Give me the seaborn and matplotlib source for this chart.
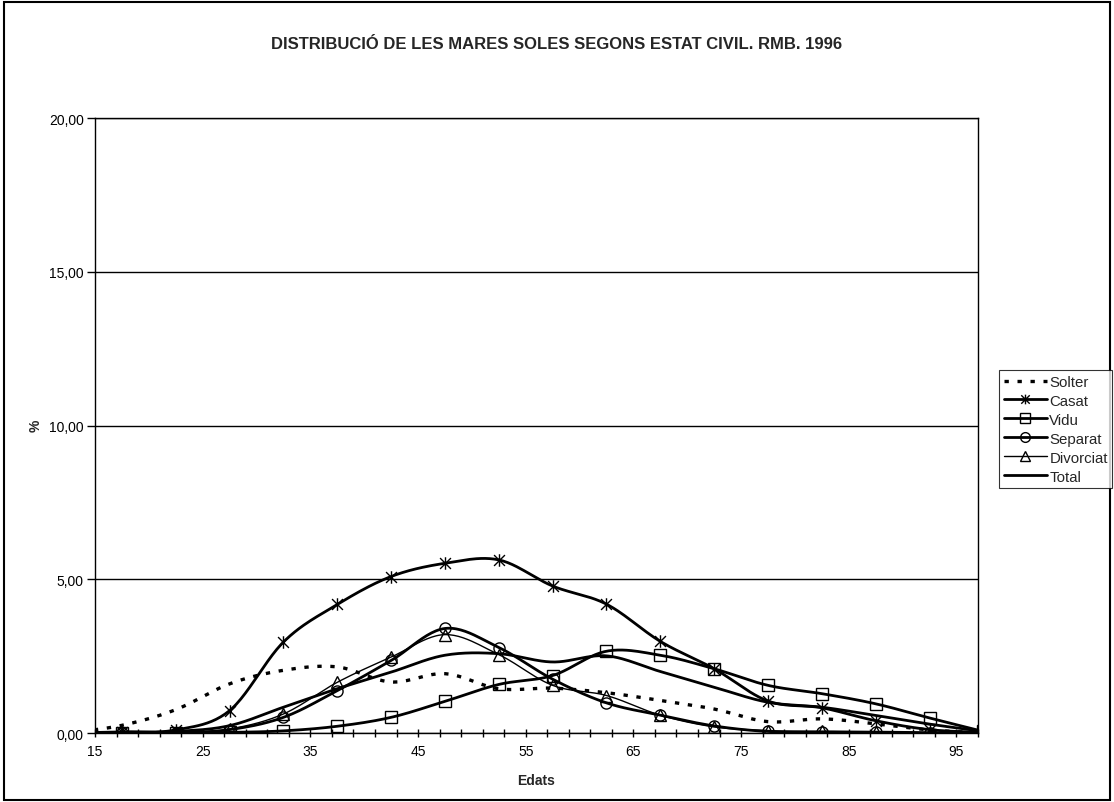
import numpy as np
import pandas as pd
import matplotlib
matplotlib.use("Agg")
import matplotlib.pyplot as plt
from matplotlib.lines import Line2D
from matplotlib.patches import Rectangle
from matplotlib.path import Path
import seaborn as sns

"""
DADES
"""
# centre de cada grup d'edat (12.5 queda fora de l'eix, només per a l'inici de la corba)
edats = [12.5, 17.5, 22.5, 27.5, 32.5, 37.5, 42.5, 47.5, 52.5, 57.5,
         62.5, 67.5, 72.5, 77.5, 82.5, 87.5, 92.5, 97.5]

solter    = [0.0, 0.25, 0.76, 1.60, 2.04, 2.15, 1.66, 1.93, 1.44, 1.46,
             1.31, 1.06, 0.78, 0.37, 0.46, 0.30, 0.10, 0.0]
casat     = [0.0, 0.04, 0.10, 0.73, 2.96, 4.18, 5.09, 5.52, 5.63, 4.78,
             4.19, 2.98, 2.09, 1.04, 0.82, 0.40, 0.11, 0.02]
vidu      = [0.0, 0.0, 0.0, 0.02, 0.07, 0.22, 0.51, 1.03, 1.58, 1.87,
             2.66, 2.53, 2.09, 1.55, 1.28, 0.95, 0.49, 0.05]
separat   = [0.0, 0.0, 0.01, 0.11, 0.51, 1.38, 2.36, 3.40, 2.78, 1.75,
             0.98, 0.58, 0.23, 0.05, 0.04, 0.03, 0.01, 0.0]
divorciat = [0.0, 0.0, 0.01, 0.13, 0.62, 1.65, 2.47, 3.20, 2.55, 1.55,
             1.22, 0.58, 0.20, 0.08, 0.05, 0.03, 0.01, 0.0]
total     = [0.0, 0.01, 0.05, 0.24, 0.84, 1.44, 1.98, 2.53, 2.58, 2.31,
             2.51, 2.00, 1.49, 1.00, 0.84, 0.57, 0.29, 0.05]

noms = ["Solter", "Casat", "Vidu", "Separat", "Divorciat", "Total"]
series = [solter, casat, vidu, separat, divorciat, total]

xticks = [15, 25, 35, 45, 55, 65, 75, 85, 95]
yticks = [0, 5, 10, 15, 20]
ytick_labels = ["0,00", "5,00", "10,00", "15,00", "20,00"]

"""
ESTILS
"""
# asterisc tipus Excel: una X amb una barra vertical
asterisc = Path([(-1, -1), (1, 1), (-1, 1), (1, -1), (0, -1.15), (0, 1.15)],
                [Path.MOVETO, Path.LINETO, Path.MOVETO, Path.LINETO, Path.MOVETO, Path.LINETO])

estils = {
    "Solter":    dict(ls=(0, (1.3, 2.6)), lw=2.4, marker=None),
    "Casat":     dict(ls="-", lw=2.0, marker=asterisc),
    "Vidu":      dict(ls="-", lw=2.0, marker="s"),
    "Separat":   dict(ls="-", lw=2.0, marker="o"),
    "Divorciat": dict(ls="-", lw=1.0, marker="^"),
    "Total":     dict(ls="-", lw=2.0, marker=None),
}


def suavitzar(x, y, n=25):
    # corba tipus "linia suavitzada" d'Excel (bezier amb tensio 1/6)
    p = np.column_stack([x, y]).astype(float)
    trossos = []
    for i in range(len(p) - 1):
        p0 = p[i - 1] if i > 0 else p[i]
        p1 = p[i]
        p2 = p[i + 1]
        p3 = p[i + 2] if i + 2 < len(p) else p[i + 1]
        c1 = p1 + (p2 - p0) / 6.0
        c2 = p2 - (p3 - p1) / 6.0
        t = np.linspace(0, 1, n)[:, None]
        seg = (1 - t) ** 3 * p1 + 3 * (1 - t) ** 2 * t * c1 + 3 * (1 - t) * t ** 2 * c2 + t ** 3 * p2
        trossos.append(seg if i == 0 else seg[1:])
    return np.vstack(trossos)


"""
GRAFIC
"""
sns.set_style("white")
plt.rcParams["font.family"] = ["Liberation Sans", "DejaVu Sans"]

fig = plt.figure(figsize=(11.14, 8.03), dpi=100)
ax = fig.add_axes([0.0853, 0.0859, 0.7926, 0.7659])

handles = []
for nom, valors in zip(noms, series):
    e = estils[nom]
    corba = suavitzar(edats, valors)
    df = pd.DataFrame({"x": corba[:, 0], "y": corba[:, 1]})
    sns.lineplot(data=df, x="x", y="y", ax=ax, color="black", lw=e["lw"],
                 linestyle=e["ls"], sort=False, estimator=None)
    if e["marker"] is not None:
        ms = 9 if nom == "Casat" else 8
        ax.plot(edats, valors, ls="none", marker=e["marker"], ms=ms,
                mfc="none", mec="black", mew=1.0)
    handles.append(Line2D([], [], color="black", lw=e["lw"], linestyle=e["ls"],
                          marker=e["marker"], ms=7, mfc="none", mec="black", mew=1.0))

ax.set_xlim(15, 97)
ax.set_ylim(0, 20)
ax.set_xticks(xticks)
ax.set_xticks(np.arange(15, 98, 2), minor=True)
ax.set_yticks(yticks)
ax.set_yticklabels(ytick_labels)
ax.set_xlabel("")
ax.set_ylabel("")
ax.tick_params(axis="x", which="both", direction="inout", length=6, width=1,
               colors="black", labelsize=10, pad=5, bottom=True)
ax.tick_params(axis="y", direction="out", length=6, width=1, colors="black",
               labelsize=10, pad=2, left=True)
ax.yaxis.grid(True, color="black", lw=1)
ax.xaxis.grid(False)
for s in ax.spines.values():
    s.set_color("black")
    s.set_linewidth(1)

fig.text(0.5, 0.944, "DISTRIBUCIÓ DE LES MARES SOLES SEGONS ESTAT CIVIL. RMB. 1996",
         ha="center", va="center", fontsize=12, fontweight="bold")
fig.text(0.481, 0.028, "Edats", ha="center", va="center", fontsize=10, fontweight="bold")
fig.text(0.032, 0.47, "%", ha="center", va="center", fontsize=10, fontweight="bold",
         rotation=90)

leg = fig.legend(handles, noms, loc="lower left", bbox_to_anchor=(0.8968, 0.391),
                 frameon=True, fancybox=False, fontsize=10.8, handlelength=2.9,
                 handletextpad=0.15, labelspacing=0.33, borderpad=0.3,
                 borderaxespad=0)
leg.get_frame().set_edgecolor("black")
leg.get_frame().set_linewidth(0.8)

# marc de tot el grafic
fig.patches.append(Rectangle((0.004, 0.002), 0.992, 0.994, transform=fig.transFigure,
                             fill=False, edgecolor="black", lw=1.5))

plt.savefig("out.png", dpi=100)
